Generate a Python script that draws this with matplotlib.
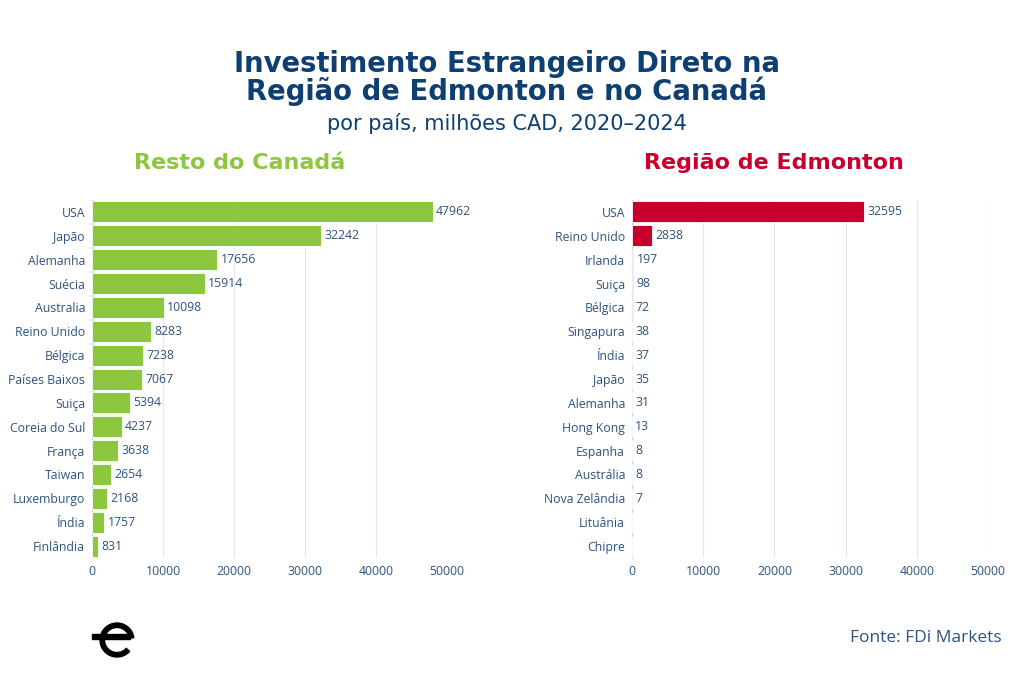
import matplotlib.pyplot as plt
from matplotlib.patches import Wedge, Rectangle

# data
canada_countries = ['USA', 'Japão', 'Alemanha', 'Suécia', 'Australia', 'Reino Unido', 'Bélgica',
                    'Países Baixos', 'Suiça', 'Coreia do Sul', 'França', 'Taiwan', 'Luxemburgo',
                    'Índia', 'Finlândia']
canada_values = [47962, 32242, 17656, 15914, 10098, 8283, 7238, 7067, 5394, 4237, 3638, 2654,
                 2168, 1757, 831]

edm_countries = ['USA', 'Reino Unido', 'Irlanda', 'Suiça', 'Bélgica', 'Singapura', 'Índia', 'Japão',
                 'Alemanha', 'Hong Kong', 'Espanha', 'Austrália', 'Nova Zelândia', 'Lituânia', 'Chipre']
edm_values = [32595, 2838, 197, 98, 72, 38, 37, 35, 31, 13, 8, 8, 7, 0, 0]

x_ticks = [0, 10000, 20000, 30000, 40000, 50000]

plt.rcParams['font.family'] = ['Open Sans', 'DejaVu Sans']
head_font = ['DejaVu Sans']

navy = '#0d3f72'
txt = '#2d5380'
green = '#8dc63f'
red = '#c8002d'

fig = plt.figure(figsize=(10.24, 6.97), dpi=100)

fig.text(0.495, 0.908, 'Investimento Estrangeiro Direto na', ha='center', va='center',
         fontsize=19.8, fontweight='bold', color=navy, family=head_font)
fig.text(0.495, 0.869, 'Região de Edmonton e no Canadá', ha='center', va='center',
         fontsize=19.8, fontweight='bold', color=navy, family=head_font)
fig.text(0.495, 0.823, 'por país, milhões CAD, 2020–2024', ha='center', va='center',
         fontsize=15, color=navy, family=head_font)


def panel(rect, names, vals, color, title, title_x):
    ax = fig.add_axes(rect)
    y = range(len(names))
    ax.barh(y, vals, height=0.88, color=color, edgecolor='white', linewidth=0.6, zorder=3)
    for i, v in enumerate(vals):
        if v > 0:
            ax.text(v + 450, i, str(v), va='center', ha='left', fontsize=8.8, color=txt, zorder=4)
    ax.set_yticks(list(y))
    ax.set_yticklabels(names, fontsize=8.8, color=txt)
    ax.set_ylim(len(names) - 0.5, -0.5)
    ax.set_xlim(0, 50000)
    ax.set_xticks(x_ticks)
    ax.set_xticklabels([str(t) for t in x_ticks], fontsize=8.8, color=txt)
    ax.tick_params(length=0, pad=5)
    ax.xaxis.grid(True, color='#e3e8ef', linewidth=0.8, zorder=0)
    for s in ['top', 'right', 'bottom']:
        ax.spines[s].set_visible(False)
    ax.spines['left'].set_color('#c9d3df')
    ax.spines['left'].set_linewidth(0.8)
    fig.text(title_x, 0.766, title, ha='center', va='center', fontsize=16,
             fontweight='bold', color=color, family=head_font)
    return ax


panel([0.0898, 0.1994, 0.3467, 0.5136], canada_countries, canada_values, green,
      'Resto do Canadá', 0.234)
panel([0.6172, 0.1994, 0.3477, 0.5136], edm_countries, edm_values, red,
      'Região de Edmonton', 0.756)

fig.text(0.978, 0.085, 'Fonte: FDi Markets', ha='right', va='center', fontsize=12.5, color=txt)

# logo, drawn in pixel units (y measured up from the bottom)
lax = fig.add_axes([88 / 1024, 32 / 697, 52 / 1024, 50 / 697])
lax.set_xlim(88, 140)
lax.set_ylim(32, 82)
lax.axis('off')
lax.add_patch(Wedge((117, 57), 17, 8, 318, width=4.5, color='black'))
lax.add_patch(Rectangle((92, 58.5), 38, 4.5, color='black'))

fig.savefig('out.png', dpi=100, facecolor='white')
